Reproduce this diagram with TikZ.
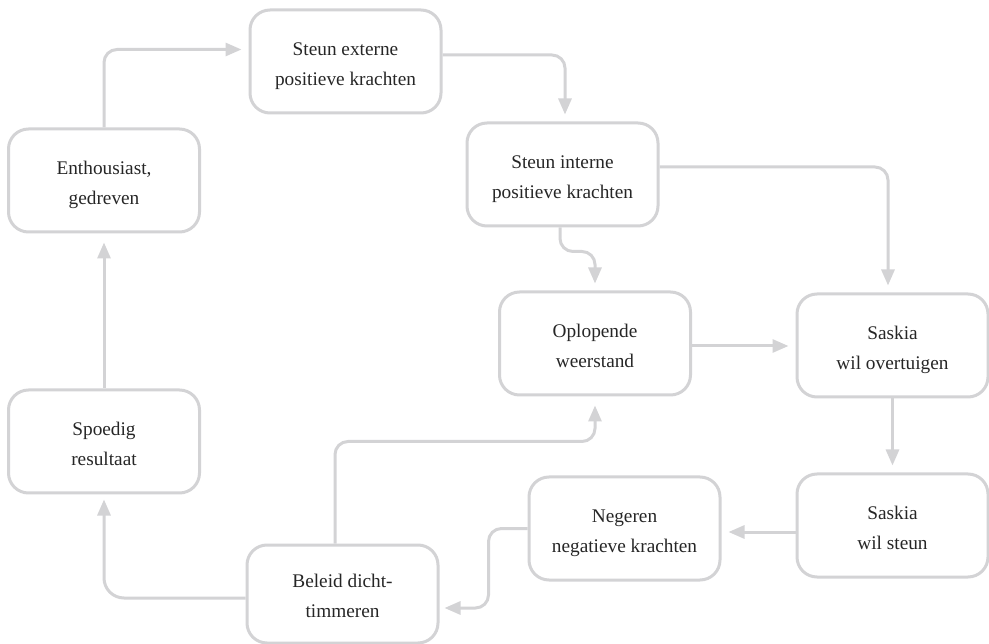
\documentclass[tikz,border=0pt]{standalone}
\usepackage{fontspec}
\setmainfont{Liberation Serif}
\usetikzlibrary{arrows.meta,calc}
\definecolor{linegrey}{HTML}{D3D3D5}
\definecolor{textgrey}{HTML}{262626}
% two centred lines, set a little below the middle of the box
\newcommand\twolines[2]{\raisebox{-7.8pt}[0pt][0pt]{\begin{tabular}{@{}c@{}}#1\\#2\end{tabular}}}
\tikzset{
  x=1pt, y=-1pt,
  box/.style={draw=linegrey, line width=3pt, rounded corners=20pt,
    minimum width=191pt, minimum height=103pt, align=center,
    text=textgrey, font=\fontsize{19.3}{30}\selectfont, inner sep=0pt},
  link/.style={draw=linegrey, line width=3pt, rounded corners=13pt,
    -{Triangle[length=16pt,width=13pt]}, shorten >=7pt},
}
\begin{document}
\begin{tikzpicture}
\useasboundingbox (0,0) rectangle (989,644);

% the nine stations of the cycle
\node[box] (ext)  at (345.5,61.5)  {\twolines{Steun externe}{positieve krachten}};
\node[box] (enth) at (104,180.5)   {\twolines{Enthousiast,}{gedreven}};
\node[box] (int)  at (562.5,174.5) {\twolines{Steun interne}{positieve krachten}};
\node[box] (opl)  at (595,343.5)   {\twolines{Oplopende}{weerstand}};
\node[box] (sov)  at (892.5,345.5) {\twolines{Saskia}{wil overtuigen}};
\node[box] (spd)  at (104,441.5)   {\twolines{Spoedig}{resultaat}};
\node[box] (neg)  at (624.5,528.5) {\twolines{Negeren}{negatieve krachten}};
\node[box] (sst)  at (892.5,525.5) {\twolines{Saskia}{wil steun}};
\node[box, minimum height=98pt] (bel) at (342.5,594) {\twolines{Beleid dicht-}{timmeren}};

% connectors (yshift is in pt upwards)
\draw[link] (enth.north) |- ([yshift=12pt]ext.west);
\draw[link] ([yshift=6.5pt]ext.east) -| ([xshift=2.5pt]int.north);
\draw[link] ([yshift=7.5pt]int.east) -| ([xshift=-4.5pt]sov.north);
\draw[link] ([xshift=-2.5pt]int.south) -- ++(0,24) -| (opl.north);
\draw[link] ([yshift=-2.5pt]opl.east) -- ([yshift=-2.5pt]opl.east -| sov.west);
\draw[link] (sov.south) -- (sst.north);
\draw[link] ([yshift=-6.5pt]sst.west) -- ([yshift=-6.5pt]sst.west -| neg.east);
\draw[link, shorten >=5pt] (neg.west) -- ++(-39,0) |- ([yshift=-14pt]bel.east);
\draw[link, shorten >=9pt] ([xshift=-7.5pt]bel.north) -- ++(0,-102) -| (opl.south);
\draw[link, rounded corners=20pt, shorten >=5pt] ([yshift=-4pt]bel.west) -| (spd.south);
\draw[link, shorten >=9pt] (spd.north) -- (enth.south);
\end{tikzpicture}
\end{document}
